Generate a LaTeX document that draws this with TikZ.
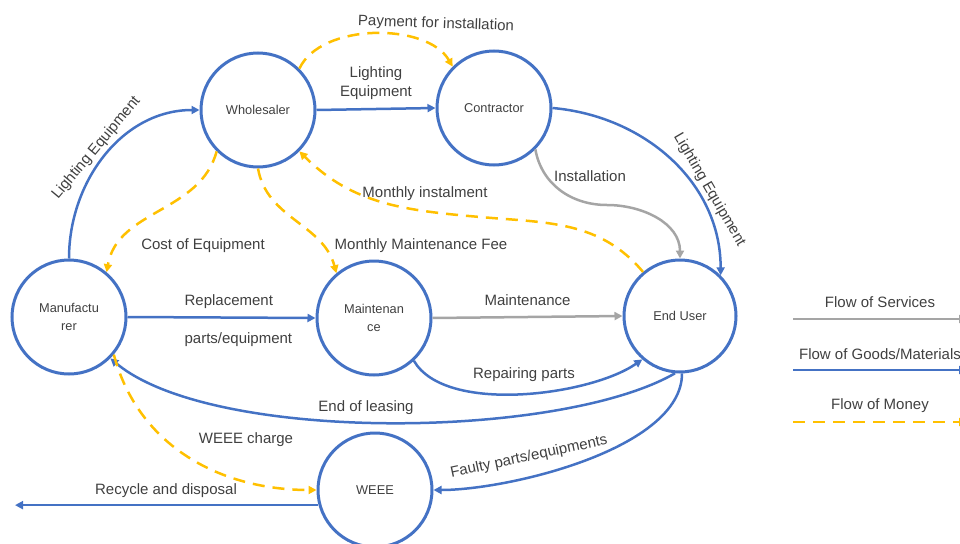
\documentclass[tikz,border=0pt]{standalone}
\usepackage{fontspec}
\setmainfont{Liberation Sans}
\usepackage{tikz}
\usetikzlibrary{arrows.meta}
\definecolor{goodsblue}{HTML}{4472C4}
\definecolor{moneyorange}{HTML}{FFC000}
\definecolor{servicegray}{HTML}{A5A5A5}
\definecolor{labelgray}{HTML}{404040}
\tikzset{>={Triangle[length=8pt,width=8pt]}}
\tikzset{actor/.style={draw=goodsblue, circle, line width=3pt, minimum size=114pt,
    inner sep=0pt, align=center, text=labelgray, font=\fontsize{12.8}{18}\selectfont}}
\tikzset{goods/.style={draw=goodsblue, line width=2.5pt}}
\tikzset{services/.style={draw=servicegray, line width=2.5pt}}
\tikzset{money/.style={draw=moneyorange, line width=2.5pt, dash pattern=on 12pt off 8pt}}
\tikzset{flowlabel/.style={text=labelgray, align=center, font=\fontsize{15}{19}\selectfont}}

\begin{document}
\begin{tikzpicture}[x=1pt, y=1pt]
    \useasboundingbox (0,0) rectangle (960,-543);

    \node[actor] (wholesaler) at (258,-110) {Wholesaler};
    \node[actor] (contractor) at (494,-108) {Contractor};
    \node[actor] (manufacturer) at (69,-317) {Manufactu\\rer};
    \node[actor] (maintenance) at (374,-318) {Maintenan\\ce};
    \node[actor, minimum size=112pt] (enduser) at (680,-316) {End User};
    \node[actor] (weee) at (375,-490) {WEEE};

    \coordinate (installbend) at (607,-205);
    \coordinate (instalbend) at (480,-217);
    \coordinate (disposal) at (15,-505);

    % goods / materials
    \draw[goods,->] (manufacturer.north) to[out=90,in=180]
        node[flowlabel, sloped, above, pos=0.5] {Lighting Equipment} (wholesaler.west);
    \draw[goods,->] (wholesaler.east) to
        node[flowlabel, above=5pt] {Lighting\\Equipment} (contractor.west);
    \draw[goods,->] (contractor.east) to[out=-5,in=90]
        node[flowlabel, sloped, above, pos=0.68] {Lighting Equipment} (enduser.45);
    \draw[goods,->] (manufacturer.east) to (maintenance.west)
        node[flowlabel, anchor=west] at (180,-302) {Replacement}
        node[flowlabel, anchor=west] at (180,-340) {parts/equipment};
    \draw[goods,->] (maintenance.-47) to[out=-60,in=-145,looseness=0.7] (enduser.-131)
        node[flowlabel] at (524,-375) {Repairing parts};
    \draw[goods,->] (enduser.-95) to[out=210,in=-40,looseness=0.6] (manufacturer.-45)
        node[flowlabel] at (366,-408) {End of leasing};
    \draw[goods,->] (enduser.-88) to[out=-90,in=0,looseness=0.7] (weee.east)
        node[flowlabel, rotate=12] at (529,-457) {Faulty parts/equipments};
    \draw[goods,->] (weee.195) -- (weee.195 -| disposal)
        node[flowlabel] at (166,-491) {Recycle and disposal};

    % services
    \draw[services,->] (maintenance.east) to
        node[flowlabel, above=7pt] {Maintenance} (enduser.west);
    \draw[services,->] (contractor.-45) to[out=-80,in=180] (installbend)
        to[out=0,in=90] (enduser.north)
        node[flowlabel] at (590,-176) {Installation};

    % money
    \draw[money,->] (wholesaler.45) to[out=65,in=120,looseness=0.85] (contractor.135)
        node[flowlabel, rotate=-2] at (436,-24) {Payment for installation};
    \draw[money,->] (enduser.130) to[out=130,in=-5] (instalbend)
        to[out=175,in=-45] (wholesaler.-45)
        node[flowlabel] at (425,-194) {Monthly instalment};
    \draw[money,->] (wholesaler.-135) to[out=-105,in=80] (manufacturer.50)
        node[flowlabel] at (203,-246) {Cost of Equipment};
    \draw[money,->] (wholesaler.south) to[out=-80,in=105] (maintenance.130)
        node[flowlabel] at (421,-246) {Monthly Maintenance Fee};
    \draw[money,->] (manufacturer.-40) to[out=-75,in=180] (weee.west)
        node[flowlabel] at (246,-440) {WEEE charge};

    % legend
    \coordinate (services-start) at (793,-319);
    \coordinate (services-end) at (967,-319);
    \coordinate (goods-start) at (793,-370);
    \coordinate (goods-end) at (967,-370);
    \coordinate (money-start) at (793,-422);
    \coordinate (money-end) at (967,-422);
    \draw[services,->] (services-start) -- node[flowlabel, above=7pt] {Flow of Services} (services-end);
    \draw[goods,->] (goods-start) -- node[flowlabel, above=6pt] {Flow of Goods/Materials} (goods-end);
    \draw[money,->] (money-start) -- node[flowlabel, above=5pt] {Flow of Money} (money-end);
\end{tikzpicture}
\end{document}
